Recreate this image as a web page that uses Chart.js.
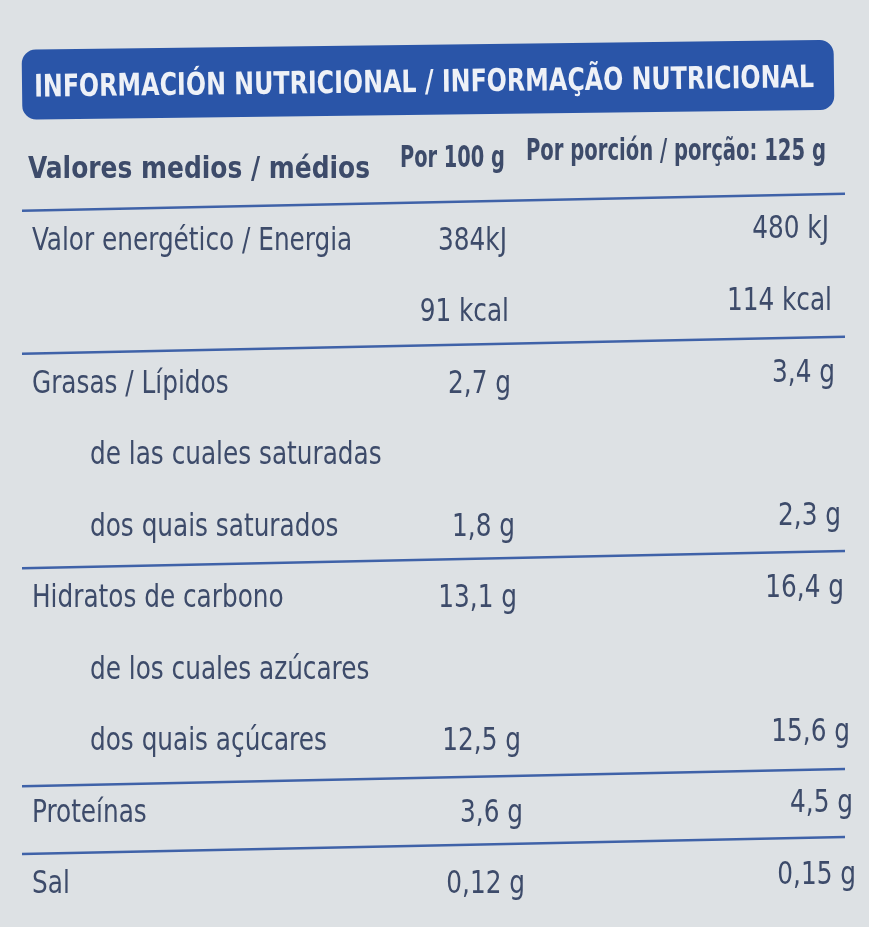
<!DOCTYPE html>
<html>
<head>
<meta charset="utf-8">
<script src="https://cdn.jsdelivr.net/npm/chart.js@4/dist/chart.umd.min.js"></script>
<style>
  html, body { margin: 0; padding: 0; background: #dde1e4; }
  #wrap { width: 869px; height: 927px; }
</style>
</head>
<body>
<div id="wrap"><canvas id="label"></canvas></div>
<script>
const title = "INFORMACIÓN NUTRICIONAL / INFORMAÇÃO NUTRICIONAL";
const headers = ["Valores medios / médios", "Por 100 g", "Por porción / porção: 125 g"];
const rowNames = [
  "Valor energético / Energia", "", "Grasas / Lípidos", "de las cuales saturadas",
  "dos quais saturados", "Hidratos de carbono", "de los cuales azúcares",
  "dos quais açúcares", "Proteínas", "Sal"
];
const indented = [false, false, false, true, true, false, true, true, false, false];
const per100 = ["384kJ", "91 kcal", "2,7 g", "", "1,8 g", "13,1 g", "", "12,5 g", "3,6 g", "0,12 g"];
const perPortion = ["480 kJ", "114 kcal", "3,4 g", "", "2,3 g", "16,4 g", "", "15,6 g", "4,5 g", "0,15 g"];
// separator lines sit below these row indexes (header = 0)
const linesAfter = [0, 2, 5, 8, 9];

const FONT = '"DejaVu Sans Condensed", "Roboto", sans-serif';
const INK = "#3d4b6a";

function squeezed(ctx, text, px, py, align, sx) {
  ctx.save();
  ctx.translate(px, py);
  ctx.scale(sx, 1);
  ctx.textAlign = align;
  ctx.fillText(text, 0, 0);
  ctx.restore();
}

const tablePlugin = {
  id: "table",
  afterDraw(chart) {
    const ctx = chart.ctx;
    const x = chart.scales.x, y = chart.scales.y;
    ctx.save();

    // blue banner
    ctx.save();
    ctx.translate(x.getPixelForValue(428), y.getPixelForValue(-1.25));
    ctx.rotate(-0.012);
    ctx.fillStyle = "#2a55a8";
    ctx.beginPath();
    ctx.roundRect(-406, -36, 812, 70, 14);
    ctx.fill();
    ctx.fillStyle = "#eef1f7";
    ctx.font = "bold 31px " + FONT;
    ctx.textAlign = "center";
    ctx.textBaseline = "middle";
    ctx.fillText(title, -4, 3, 780);
    ctx.restore();

    ctx.fillStyle = INK;
    ctx.textBaseline = "middle";

    // header row
    ctx.font = "bold 31px " + FONT;
    ctx.textAlign = "left";
    ctx.fillText(headers[0], x.getPixelForValue(28), y.getPixelForValue(0), 342);
    ctx.textAlign = "right";
    ctx.fillText(headers[1], x.getPixelForValue(505), y.getPixelForValue(-0.15), 105);
    ctx.fillText(headers[2], x.getPixelForValue(826), y.getPixelForValue(-0.25), 300);

    // body rows
    ctx.font = "32px " + FONT;
    rowNames.forEach((name, i) => {
      const r = i + 1;
      const py = y.getPixelForValue(r);
      if (name) squeezed(ctx, name, x.getPixelForValue(indented[i] ? 90 : 32), py, "left", 0.86);
      if (per100[i]) squeezed(ctx, per100[i], x.getPixelForValue(505 + r * 2), py, "right", 0.86);
      if (perPortion[i]) squeezed(ctx, perPortion[i], x.getPixelForValue(826 + r * 3), py - 12 + r * 0.3, "right", 0.86);
    });

    // separator lines
    ctx.strokeStyle = "#3f62a8";
    ctx.lineWidth = 2.5;
    linesAfter.forEach(r => {
      const yl = r + 0.45 + (r === 8 ? 0.05 : 0);
      ctx.beginPath();
      ctx.moveTo(x.getPixelForValue(22), y.getPixelForValue(yl + 0.12));
      ctx.lineTo(x.getPixelForValue(845), y.getPixelForValue(yl - 0.12));
      ctx.stroke();
    });
    ctx.restore();
  }
};

new Chart(document.getElementById("label"), {
  type: "scatter",
  data: { datasets: [{ data: [], pointRadius: 0 }] },
  options: {
    responsive: true,
    maintainAspectRatio: false,
    animation: false,
    layout: { padding: 0 },
    plugins: { legend: { display: false }, tooltip: { enabled: false } },
    scales: {
      x: { type: "linear", min: 0, max: 869, display: false },
      y: { type: "linear", min: -2.38, max: 10.59, reverse: true, display: false }
    }
  },
  plugins: [tablePlugin]
});
</script>
</body>
</html>
